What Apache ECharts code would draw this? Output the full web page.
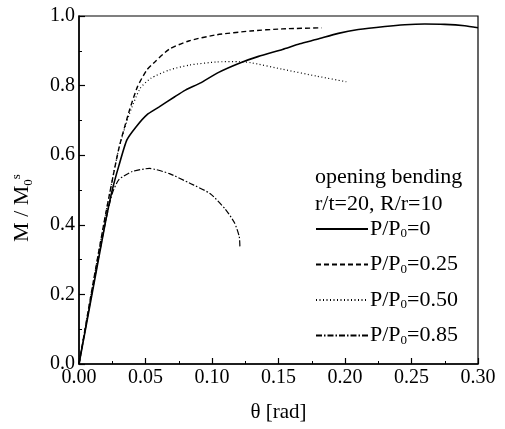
<!DOCTYPE html>
<html><head><meta charset="utf-8">
<script src="https://cdn.jsdelivr.net/npm/echarts@6/dist/echarts.min.js"></script>
<style>html,body{margin:0;padding:0;background:#fff}#c{width:505px;height:429px}</style>
</head><body><div id="c"></div>
<script>
const xTicks = [0.00, 0.05, 0.10, 0.15, 0.20, 0.25, 0.30];
const yTicks = [0.0, 0.2, 0.4, 0.6, 0.8, 1.0];
const seriesNames = ['P/P0=0', 'P/P0=0.25', 'P/P0=0.50', 'P/P0=0.85'];
const p000 = [[0,0],[0.010,0.205],[0.020,0.41],[0.025,0.50],[0.030,0.57],[0.036,0.644],[0.043,0.682],[0.051,0.716],[0.060,0.738],[0.072,0.768],[0.080,0.787],[0.091,0.807],[0.105,0.838],[0.121,0.865],[0.135,0.884],[0.153,0.904],[0.166,0.920],[0.179,0.933],[0.195,0.950],[0.210,0.961],[0.230,0.970],[0.245,0.975],[0.260,0.977],[0.275,0.976],[0.290,0.972],[0.300,0.966]];
const p025 = [[0,0],[0.010,0.22],[0.020,0.43],[0.030,0.62],[0.038,0.73],[0.044,0.797],[0.051,0.845],[0.057,0.868],[0.068,0.905],[0.083,0.929],[0.1035,0.946],[0.129,0.957],[0.153,0.963],[0.1825,0.966]];
const p050 = [[0,0],[0.010,0.22],[0.020,0.43],[0.030,0.62],[0.038,0.72],[0.046,0.792],[0.054,0.821],[0.068,0.845],[0.083,0.859],[0.1035,0.868],[0.121,0.869],[0.129,0.866],[0.153,0.847],[0.179,0.827],[0.201,0.811]];
const p085 = [[0,0],[0.010,0.21],[0.020,0.41],[0.025,0.49],[0.030,0.53],[0.040,0.553],[0.053,0.562],[0.068,0.547],[0.083,0.520],[0.0985,0.490],[0.110,0.445],[0.117,0.405],[0.1205,0.366],[0.121,0.333]];

const FONT = '"Liberation Serif", "Times New Roman", serif';
const chart = echarts.init(document.getElementById('c'));
const mk = (name, data, type, width) => ({
  name, type: 'line', data, symbol: 'none', smooth: 0.2,
  lineStyle: { color: '#000', width, type },
  itemStyle: { color: '#000' }
});
chart.setOption({
  animation: false,
  backgroundColor: '#fff',
  grid: { left: 79, right: 27, top: 16, bottom: 65, show: true, borderColor: '#000', borderWidth: 1.2 },
  title: {
    text: 'opening bending\nr/t=20, R/r=10', left: 310, top: 159,
    textStyle: { fontFamily: FONT, fontSize: 22, fontWeight: 'normal', color: '#000', lineHeight: 27 }
  },
  legend: {
    orient: 'vertical', left: 310, top: 213, itemWidth: 52, itemHeight: 12, itemGap: 13,
    data: seriesNames,
    itemStyle: { opacity: 0 },
    formatter: n => { const v = n.split('=')[1]; return 'P/P{s|0}=' + v; },
    textStyle: { fontFamily: FONT, fontSize: 22, color: '#000', padding: [0,0,0,-3],
      rich: { s: { fontFamily: FONT, fontSize: 13, verticalAlign: 'bottom', padding: [10,0,0,0], color: '#000' } } }
  },
  xAxis: {
    type: 'value', min: 0, max: 0.30, interval: 0.05,
    name: 'θ [rad]', nameLocation: 'middle', nameGap: 38,
    nameTextStyle: { fontFamily: FONT, fontSize: 21, color: '#000' },
    axisLine: { lineStyle: { color: '#000', width: 1.5 } },
    axisTick: { inside: true, length: 6, lineStyle: { color: '#000', width: 1.2 } },
    minorTick: { show: true, splitNumber: 2, length: 3, lineStyle: { color: '#000' } },
    splitLine: { show: false },
    axisLabel: { fontFamily: FONT, fontSize: 20, color: '#000', margin: 4,
      formatter: v => v.toFixed(2) }
  },
  yAxis: {
    type: 'value', min: 0, max: 1.0, interval: 0.2,
    name: 'M / M{sub|0}{sup|s}', nameLocation: 'middle', nameGap: 44,
    nameTextStyle: { fontFamily: FONT, fontSize: 22, color: '#000', padding: [0, 36, 0, 0],
      rich: { sub: { fontFamily: FONT, fontSize: 13, verticalAlign: 'bottom', padding: [12,0,0,0], color: '#000' },
              sup: { fontFamily: FONT, fontSize: 13, verticalAlign: 'top', padding: [0,0,10,0], color: '#000' } } },
    axisLine: { show: true, lineStyle: { color: '#000', width: 1.5 } },
    axisTick: { show: true, inside: true, length: 6, lineStyle: { color: '#000', width: 1.2 } },
    minorTick: { show: true, splitNumber: 2, length: 3, lineStyle: { color: '#000' } },
    splitLine: { show: false },
    axisLabel: { fontFamily: FONT, fontSize: 20, color: '#000', margin: 4,
      formatter: v => v.toFixed(1) }
  },
  series: [
    mk(seriesNames[0], p000, 'solid', 1.6),
    mk(seriesNames[1], p025, [5,3], 1.4),
    mk(seriesNames[2], p050, [1,2.5], 1.2),
    mk(seriesNames[3], p085, [6,2,1.5,2], 1.2)
  ]
});
</script></body></html>
